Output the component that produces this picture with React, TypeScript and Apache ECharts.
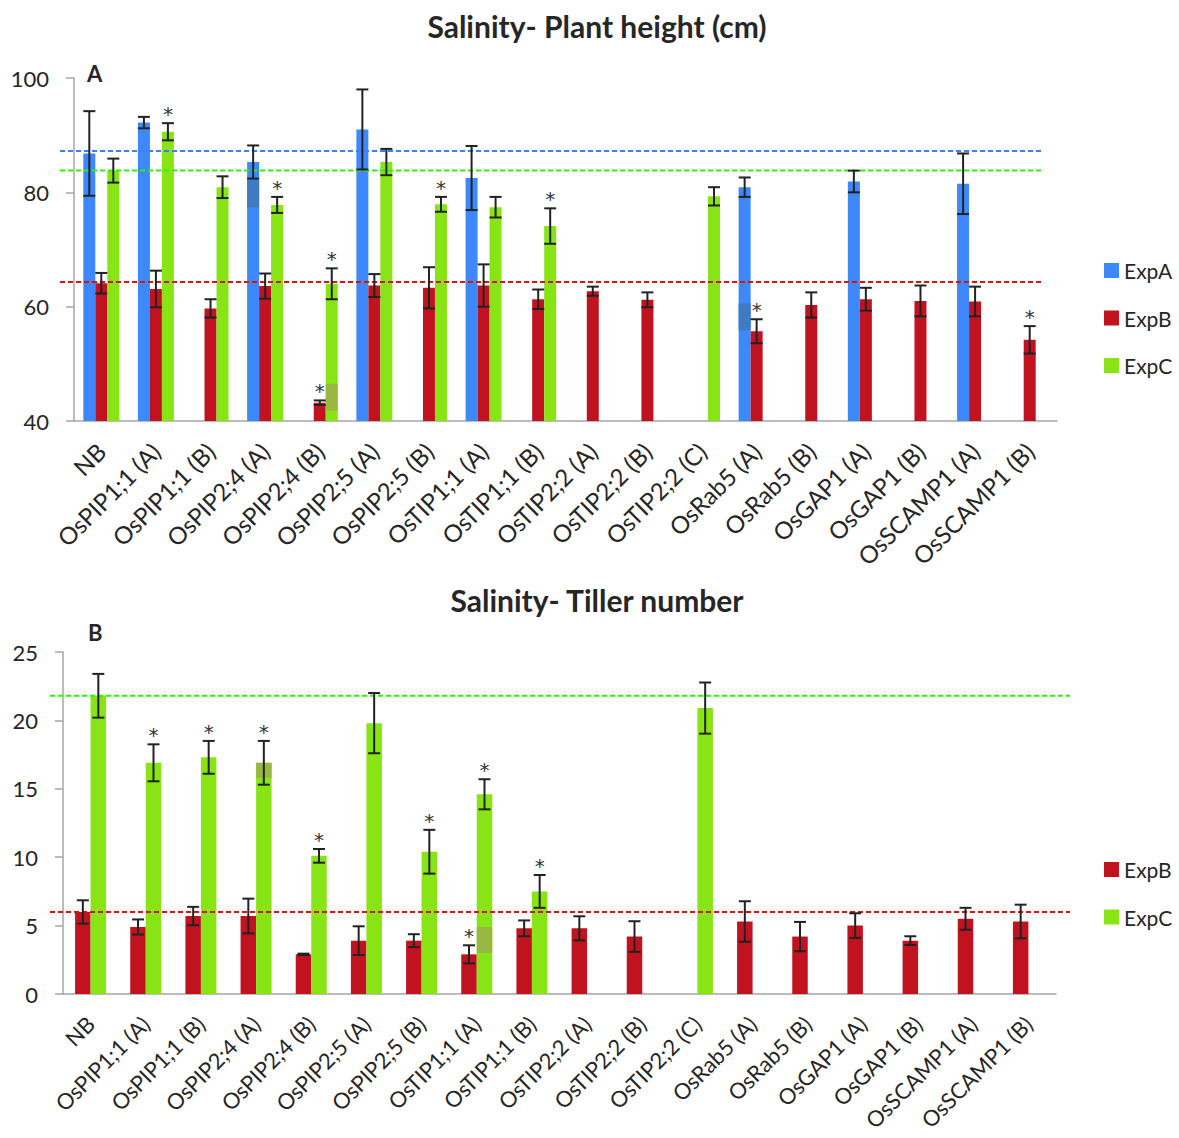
import React, { useEffect, useRef } from "react";
import * as echarts from "echarts";

const categories = [
  "NB", "OsPIP1;1 (A)", "OsPIP1;1 (B)", "OsPIP2;4 (A)", "OsPIP2;4 (B)", "OsPIP2;5 (A)",
  "OsPIP2;5 (B)", "OsTIP1;1 (A)", "OsTIP1;1 (B)", "OsTIP2;2 (A)", "OsTIP2;2 (B)", "OsTIP2;2 (C)",
  "OsRab5 (A)", "OsRab5 (B)", "OsGAP1 (A)", "OsGAP1 (B)", "OsSCAMP1 (A)", "OsSCAMP1 (B)",
];

// Panel A: plant height (cm)
const heightA = [86.8, 92.2, null, 85.3, null, 91.0, null, 82.5, null, null, null, null, 80.9, null, 81.9, null, 81.5, null];
const heightAErr = [7.4, 1.0, null, 2.9, null, 7.0, null, 5.6, null, null, null, null, 1.7, null, 1.9, null, 5.3, null];
const heightB = [64.1, 63.1, 59.7, 63.6, 43.2, 63.7, 63.3, 63.7, 61.3, 62.7, 61.2, null, 55.7, 60.3, 61.3, 61.0, 60.9, 54.2];
const heightBErr = [1.8, 3.2, 1.6, 2.2, 0.4, 2.0, 3.6, 3.7, 1.7, 0.8, 1.3, null, 2.1, 2.2, 2.0, 2.7, 2.6, 2.4];
const heightC = [83.8, 90.6, 80.9, 77.8, 64.0, 85.3, 77.9, 77.4, 74.1, null, null, 79.3, null, null, null, null, null, null];
const heightCErr = [2.1, 1.5, 1.9, 1.4, 2.7, 2.3, 1.3, 1.8, 3.1, null, null, 1.6, null, null, null, null, null, null];
const heightAStar = [0, 0, 0, 0, 0, 0, 0, 0, 0, 0, 0, 0, 0, 0, 0, 0, 0, 0];
const heightBStar = [0, 0, 0, 0, 1, 0, 0, 0, 0, 0, 0, 0, 1, 0, 0, 0, 0, 1];
const heightCStar = [0, 1, 0, 1, 1, 0, 1, 0, 1, 0, 0, 0, 0, 0, 0, 0, 0, 0];
const heightRef = { A: 87.25, B: 64.3, C: 83.8 };
const heightTicks = { min: 40, max: 100, interval: 20 };

// Panel B: tiller number
const tillerB = [6.0, 4.9, 5.7, 5.7, 2.9, 3.9, 3.9, 2.9, 4.8, 4.8, 4.2, null, 5.3, 4.2, 5.0, 3.9, 5.5, 5.3];
const tillerBErr = [0.85, 0.55, 0.67, 1.27, 0.05, 1.05, 0.47, 0.66, 0.58, 0.88, 1.12, null, 1.48, 1.07, 0.9, 0.32, 0.8, 1.23];
const tillerC = [21.8, 16.9, 17.3, 16.9, 10.1, 19.8, 10.4, 14.6, 7.5, null, null, 20.9, null, null, null, null, null, null];
const tillerCErr = [1.6, 1.35, 1.2, 1.6, 0.5, 2.2, 1.6, 1.1, 1.2, null, null, 1.87, null, null, null, null, null, null];
const tillerBStar = [0, 0, 0, 0, 0, 0, 0, 1, 0, 0, 0, 0, 0, 0, 0, 0, 0, 0];
const tillerCStar = [0, 1, 1, 1, 1, 0, 1, 1, 1, 0, 0, 0, 0, 0, 0, 0, 0, 0];
const tillerRef = { B: 6.0, C: 21.8 };
const tillerTicks = { min: 0, max: 25, interval: 5 };

// overlay patches visible in the original figure: [category index, top value, bottom value]
const patchTopA = [[3, 82.1, 77.4], [12, 60.6, 55.9]];
const patchTopC = [[4, 46.5, 41.8]];
const patchBottomC = [[3, 16.9, 15.8], [7, 4.9, 3.0]];

const BLUE = "#3D88FC";
const RED = "#C1121F";
const GREEN = "#88E414";
const TXT = "#262626";
const AXIS = "#A6A6A6";
const FONT = "Lato, 'Open Sans', sans-serif";

function errData(vals, errs, stars) {
  const out = [];
  vals.forEach((v, i) => {
    if (v != null && errs[i] != null) out.push([i, v, errs[i], stars[i]]);
  });
  return out;
}

function errSeries(xi, vals, errs, stars, offset) {
  return {
    type: "custom",
    xAxisIndex: xi,
    yAxisIndex: xi,
    z: 5,
    silent: true,
    encode: { x: 0, y: 1 },
    data: errData(vals, errs, stars),
    renderItem: (params, api) => {
      const idx = api.value(0);
      const v = api.value(1);
      const e = api.value(2);
      const star = api.value(3);
      const cx = api.coord([idx, v])[0] + offset;
      const yt = api.coord([idx, v + e])[1];
      const yb = api.coord([idx, v - e])[1];
      const st = { stroke: "#222", lineWidth: 2 };
      const children = [
        { type: "line", shape: { x1: cx, y1: yt, x2: cx, y2: yb }, style: st },
        { type: "line", shape: { x1: cx - 6, y1: yt, x2: cx + 6, y2: yt }, style: st },
        { type: "line", shape: { x1: cx - 6, y1: yb, x2: cx + 6, y2: yb }, style: st },
      ];
      if (star) {
        children.push({
          type: "text",
          x: cx,
          y: yt + 1,
          style: {
            text: "*",
            fontSize: 20,
            fontFamily: "'DejaVu Sans', sans-serif",
            fill: "#333",
            textAlign: "center",
            align: "center",
            textVerticalAlign: "bottom",
            verticalAlign: "bottom",
          },
        });
      }
      return { type: "group", children };
    },
  };
}

function refSeries(xi, value, color, x1, x2) {
  return {
    type: "custom",
    xAxisIndex: xi,
    yAxisIndex: xi,
    z: 4,
    silent: true,
    clip: false,
    encode: { x: 0, y: 1 },
    data: [[0, value]],
    renderItem: (params, api) => {
      const y = api.coord([0, api.value(1)])[1];
      return {
        type: "line",
        shape: { x1, y1: y, x2, y2: y },
        style: { stroke: color, lineWidth: 2, lineDash: [5, 3] },
      };
    },
  };
}

function patchSeries(xi, data, offset, width, color) {
  return {
    type: "custom",
    xAxisIndex: xi,
    yAxisIndex: xi,
    z: 3,
    silent: true,
    encode: { x: 0, y: 1 },
    data,
    renderItem: (params, api) => {
      const idx = api.value(0);
      const p1 = api.coord([idx, api.value(1)]);
      const p2 = api.coord([idx, api.value(2)]);
      return {
        type: "rect",
        shape: { x: p1[0] + offset - width / 2, y: p1[1], width, height: p2[1] - p1[1] },
        style: { fill: color },
      };
    },
  };
}

function xAxisCfg(gi, fs) {
  return {
    gridIndex: gi,
    type: "category",
    data: categories,
    axisLine: { lineStyle: { color: AXIS, width: 1.5 } },
    axisTick: { length: 8, lineStyle: { color: AXIS, width: 1.5 } },
    axisLabel: { rotate: 45, interval: 0, fontSize: fs, fontFamily: FONT, color: TXT, margin: 26 },
  };
}

function yAxisCfg(gi, t) {
  return {
    gridIndex: gi,
    type: "value",
    min: t.min,
    max: t.max,
    interval: t.interval,
    splitLine: { show: false },
    axisLine: { show: true, lineStyle: { color: AXIS, width: 1.5 } },
    axisTick: { show: true, length: 8, lineStyle: { color: AXIS, width: 1.5 } },
    axisLabel: { fontSize: 22, fontFamily: FONT, color: TXT, margin: 25 },
  };
}

export default function App() {
  const ref = useRef(null);
  useEffect(() => {
    const chart = echarts.init(ref.current, null, { renderer: "svg" });
    const option = {
      animation: false,
      backgroundColor: "#fff",
      grid: [
        { left: 74, top: 78, width: 983, height: 343, outerBoundsMode: "none", containLabel: false },
        { left: 63, top: 652, width: 993, height: 342, outerBoundsMode: "none", containLabel: false },
      ],
      xAxis: [xAxisCfg(0, 24), xAxisCfg(1, 22)],
      yAxis: [yAxisCfg(0, heightTicks), yAxisCfg(1, tillerTicks)],
      legend: [
        {
          data: ["ExpA", "ExpB", "ExpC"],
          orient: "vertical",
          left: 1099,
          top: 255,
          itemWidth: 15,
          itemHeight: 15,
          itemGap: 26.5,
          icon: "rect",
          textStyle: { fontSize: 21, fontFamily: FONT, color: TXT },
        },
        {
          data: ["ExpB", "ExpC"],
          orient: "vertical",
          left: 1099,
          top: 854,
          itemWidth: 15,
          itemHeight: 15,
          itemGap: 26.5,
          icon: "rect",
          textStyle: { fontSize: 21, fontFamily: FONT, color: TXT },
        },
      ],
      graphic: [
        {
          type: "text",
          x: 597,
          y: 26,
          style: {
            text: "Salinity- Plant height (cm)",
            fontSize: 30,
            fontWeight: "bold",
            fontFamily: FONT,
            fill: TXT,
            textAlign: "center",
            textVerticalAlign: "middle",
          },
        },
        {
          type: "text",
          x: 597,
          y: 600,
          style: {
            text: "Salinity- Tiller number",
            fontSize: 30,
            fontWeight: "bold",
            fontFamily: FONT,
            fill: TXT,
            textAlign: "center",
            textVerticalAlign: "middle",
          },
        },
        {
          type: "text",
          x: 87,
          y: 73,
          style: { text: "A", fontSize: 22, fontWeight: "bold", fontFamily: FONT, fill: TXT, textVerticalAlign: "middle" },
        },
        {
          type: "text",
          x: 88,
          y: 632,
          style: { text: "B", fontSize: 22, fontWeight: "bold", fontFamily: FONT, fill: TXT, textVerticalAlign: "middle" },
        },
      ],
      series: [
        { name: "ExpA", type: "bar", xAxisIndex: 0, yAxisIndex: 0, data: heightA, barWidth: 12, barGap: "0%", itemStyle: { color: BLUE } },
        { name: "ExpB", type: "bar", xAxisIndex: 0, yAxisIndex: 0, data: heightB, barWidth: 12, barGap: "0%", itemStyle: { color: RED } },
        { name: "ExpC", type: "bar", xAxisIndex: 0, yAxisIndex: 0, data: heightC, barWidth: 12, barGap: "0%", itemStyle: { color: GREEN } },
        { name: "ExpB", type: "bar", xAxisIndex: 1, yAxisIndex: 1, data: tillerB, barWidth: 15.5, barGap: "0%", itemStyle: { color: RED } },
        { name: "ExpC", type: "bar", xAxisIndex: 1, yAxisIndex: 1, data: tillerC, barWidth: 15.5, barGap: "0%", itemStyle: { color: GREEN } },
        patchSeries(0, patchTopA, -12, 12, "#3F7BC2"),
        patchSeries(0, patchTopC, 12, 12, "#98B842"),
        patchSeries(1, patchBottomC, 7.75, 15.5, "#99B843"),
        refSeries(0, heightRef.A, "#3B82F0", 60, 1042),
        refSeries(0, heightRef.C, "#33EE11", 60, 1042),
        refSeries(0, heightRef.B, "#D01515", 60, 1042),
        refSeries(1, tillerRef.C, "#33EE11", 50, 1070),
        refSeries(1, tillerRef.B, "#D01515", 50, 1070),
        errSeries(0, heightA, heightAErr, heightAStar, -12),
        errSeries(0, heightB, heightBErr, heightBStar, 0),
        errSeries(0, heightC, heightCErr, heightCStar, 12),
        errSeries(1, tillerB, tillerBErr, tillerBStar, -7.75),
        errSeries(1, tillerC, tillerCErr, tillerCStar, 7.75),
      ],
    };
    chart.setOption(option);
    return () => chart.dispose();
  }, []);
  return (
    <div
      ref={ref}
      style={{ position: "absolute", left: 0, top: 0, width: 1179, height: 1138, background: "#fff" }}
    />
  );
}
